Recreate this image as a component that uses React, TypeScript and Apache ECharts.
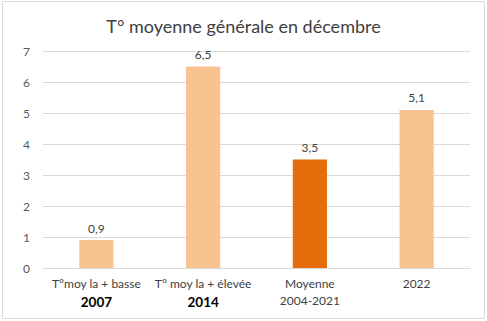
import React, { useEffect, useRef } from "react";
import * as echarts from "echarts";

const categories = ["T°moy la + basse|2007", "T° moy la + élevée|2014", "Moyenne|2004-2021", "2022"];
const boldSecondLine = [true, true, false, false];
const values = [0.9, 6.5, 3.5, 5.1];
const barColors = ["#F9C291", "#F9C291", "#E46C0A", "#F9C291"];
const yTicks = [0, 1, 2, 3, 4, 5, 6, 7];

export default function App() {
  const ref = useRef<HTMLDivElement>(null);
  useEffect(() => {
    const chart = echarts.init(ref.current!, null, { renderer: "svg" });
    const font = "Lato, 'Open Sans', sans-serif";
    chart.setOption({
      animation: false,
      backgroundColor: "#fff",
      textStyle: { fontFamily: font },
      title: {
        text: "T° moyenne générale en décembre",
        left: "center",
        top: 12,
        textStyle: { fontSize: 18, fontWeight: "normal", color: "#404040", fontFamily: font },
      },
      graphic: [
        {
          type: "rect",
          shape: { x: 2.5, y: 1.5, width: 482, height: 317 },
          style: { fill: "none", stroke: "#D9D9D9", lineWidth: 1 },
        },
      ],
      grid: { left: 43, right: 17, top: 51, bottom: 53, containLabel: false },
      xAxis: {
        type: "category",
        data: categories,
        axisLine: { lineStyle: { color: "#D9D9D9" } },
        axisTick: { show: false },
        axisLabel: {
          interval: 0,
          margin: 7,
          color: "#404040",
          formatter: (v: string, i: number) => {
            const parts = v.split("|");
            if (parts.length === 1) return `{a|${parts[0]}}`;
            return `{a|${parts[0]}}\n{${boldSecondLine[i] ? "b" : "a"}|${parts[1]}}`;
          },
          rich: {
            a: { fontSize: 12, color: "#404040", fontFamily: font, lineHeight: 17 },
            b: { fontSize: 13.5, fontWeight: "bold", color: "#000", fontFamily: font, lineHeight: 19 },
          },
        },
      },
      yAxis: {
        type: "value",
        min: 0,
        max: yTicks[yTicks.length - 1],
        interval: 1,
        axisLine: { show: false },
        axisTick: { show: false },
        axisLabel: { color: "#595959", fontSize: 12, margin: 13, fontFamily: font },
        splitLine: { lineStyle: { color: "#D9D9D9" } },
      },
      series: [
        {
          type: "bar",
          data: values.map((v, i) => ({ value: v, itemStyle: { color: barColors[i] } })),
          barWidth: "32%",
          label: {
            show: true,
            position: "top",
            distance: 6,
            color: "#404040",
            fontSize: 12,
            fontFamily: font,
            formatter: (p: any) => String(p.value).replace(".", ","),
          },
        },
      ],
    });
    return () => chart.dispose();
  }, []);
  return (
    <div
      ref={ref}
      style={{ position: "absolute", left: 0, top: 0, width: 487, height: 321 }}
    />
  );
}
